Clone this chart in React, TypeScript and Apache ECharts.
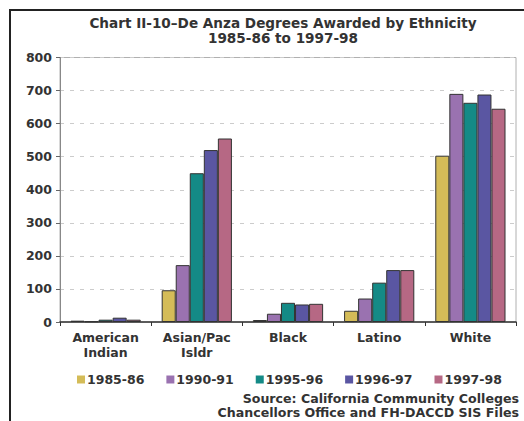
import React, { useEffect, useRef } from "react";
import * as echarts from "echarts";

const categories = ["American\nIndian", "Asian/Pac\nIsldr", "Black", "Latino", "White"];
const seriesNames = ["1985-86", "1990-91", "1995-96", "1996-97", "1997-98"];
const v1985 = [4, 96, 6, 34, 503];
const v1990 = [2, 172, 25, 71, 690];
const v1995 = [7, 450, 58, 119, 663];
const v1996 = [13, 520, 53, 157, 688];
const v1997 = [7, 555, 55, 157, 645];
const seriesValues = [v1985, v1990, v1995, v1996, v1997];
const colors = ["#D4BC58", "#9A72B0", "#148A86", "#5A56A2", "#B66884"];
const titleLines = ["Chart II-10\u2013De Anza Degrees Awarded by Ethnicity", "1985-86 to 1997-98"];
const sourceLines = ["Source: California Community Colleges", "Chancellors Office and FH-DACCD SIS Files"];

const FONT = "DejaVu Sans";

export default function App() {
  const ref = useRef<HTMLDivElement>(null);
  useEffect(() => {
    const chart = echarts.init(ref.current!, null, { renderer: "svg" });
    chart.setOption({
      animation: false,
      backgroundColor: "#ffffff",
      textStyle: { fontFamily: FONT },
      grid: {
        left: 60,
        right: 8,
        top: 57.5,
        bottom: 99,
        show: true,
        borderColor: "#b0b0b0",
        borderWidth: 1,
        containLabel: false,
      },
      legend: {
        data: seriesNames,
        left: 72,
        top: 368,
        icon: "rect",
        itemWidth: 8,
        itemHeight: 8,
        itemGap: 22,
        itemStyle: { borderWidth: 0 },
        textStyle: { fontFamily: FONT, fontWeight: "bold", fontSize: 12.5, color: "#333", padding: [0, 0, 0, -3] },
      },
      xAxis: {
        type: "category",
        data: categories,
        axisLine: { lineStyle: { color: "#333", width: 1.5 } },
        axisTick: { show: true, length: 4, lineStyle: { color: "#333" } },
        axisLabel: {
          fontFamily: FONT,
          fontWeight: "bold",
          fontSize: 12.5,
          color: "#333",
          margin: 8,
          lineHeight: 15,
        },
      },
      yAxis: {
        type: "value",
        min: 0,
        max: 800,
        interval: 100,
        axisLine: { show: true, lineStyle: { color: "#888", width: 1 } },
        axisTick: { show: true, length: 4, lineStyle: { color: "#666" } },
        axisLabel: { fontFamily: FONT, fontWeight: "bold", fontSize: 12.5, color: "#333", margin: 8 },
        splitLine: { show: true, lineStyle: { color: "#cccccc", type: [4, 6], width: 1 } },
      },
      series: seriesNames.map((name, i) => ({
        name,
        type: "bar",
        data: seriesValues[i],
        barGap: "0%",
        barCategoryGap: "23%",
        itemStyle: { color: colors[i], borderColor: "#333", borderWidth: 1 },
      })),
      graphic: [
        {
          type: "rect",
          shape: { x: 10, y: 10, width: 530, height: 430 },
          style: { fill: "none", stroke: "#222", lineWidth: 2 },
          silent: true,
          z: 100,
        },
        {
          type: "text",
          x: 283,
          y: 15,
          style: {
            text: titleLines.join("\n"),
            fontFamily: FONT,
            fontWeight: "bold",
            fontSize: 13.6,
            lineHeight: 15,
            fill: "#333",
            textAlign: "center",
          },
        },
        {
          type: "text",
          x: 519,
          y: 391,
          style: {
            text: sourceLines.join("\n"),
            fontFamily: FONT,
            fontWeight: "bold",
            fontSize: 12.6,
            lineHeight: 14,
            fill: "#333",
            textAlign: "right",
          },
        },
      ],
    });
    return () => chart.dispose();
  }, []);
  return (
    <div style={{ position: "absolute", left: 0, top: 0, width: 524, height: 421 }}>
      <div ref={ref} style={{ width: 524, height: 421 }} />
    </div>
  );
}
